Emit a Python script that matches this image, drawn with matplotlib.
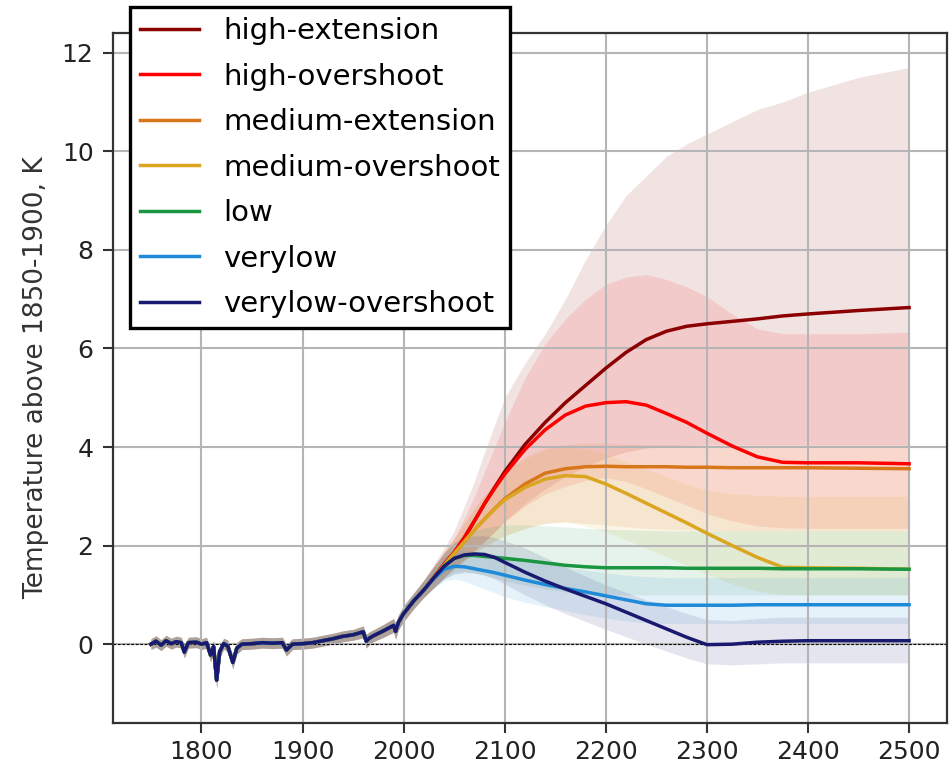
import matplotlib

matplotlib.use("Agg")
import matplotlib.pyplot as plt  # noqa: E402

# --- historical period, shared by all scenarios ---
hist_years = [1750, 1755, 1760, 1765, 1770, 1775, 1780, 1783, 1787, 1795,
              1800, 1805, 1809, 1812, 1815, 1818, 1822, 1826, 1831, 1835,
              1840, 1850, 1860, 1870, 1880, 1884, 1890, 1900, 1910, 1920,
              1930, 1940, 1950, 1960, 1963, 1966, 1970, 1980, 1990, 1992,
              1995, 2000, 2005, 2010]
hist_temp = [0.00, 0.06, -0.02, 0.07, 0.01, 0.05, 0.03, -0.16, 0.03, 0.04,
             0.00, 0.03, -0.22, -0.05, -0.73, -0.15, 0.01, -0.04, -0.37, -0.08,
             0.00, 0.01, 0.03, 0.02, 0.03, -0.12, 0.00, 0.01, 0.03, 0.07,
             0.11, 0.16, 0.19, 0.25, 0.06, 0.12, 0.17, 0.27, 0.38, 0.26,
             0.45, 0.62, 0.75, 0.88]
hist_lo = [-0.11, -0.06, -0.13, -0.04, -0.10, -0.06, -0.08, -0.28, -0.08, -0.07,
           -0.11, -0.08, -0.36, -0.18, -0.90, -0.28, -0.10, -0.16, -0.50, -0.20,
           -0.11, -0.10, -0.08, -0.09, -0.08, -0.24, -0.11, -0.10, -0.08, -0.04,
           0.00, 0.05, 0.08, 0.13, -0.08, -0.01, 0.05, 0.14, 0.24, 0.10,
           0.30, 0.46, 0.59, 0.72]
hist_hi = [0.11, 0.17, 0.09, 0.18, 0.12, 0.16, 0.14, -0.04, 0.14, 0.15,
           0.11, 0.14, -0.08, 0.08, -0.57, -0.02, 0.12, 0.08, -0.24, 0.04,
           0.11, 0.12, 0.14, 0.13, 0.14, 0.00, 0.11, 0.12, 0.14, 0.18,
           0.22, 0.27, 0.30, 0.37, 0.20, 0.25, 0.29, 0.40, 0.52, 0.42,
           0.60, 0.78, 0.91, 1.04]

# --- scenarios (median + 5-95% range) ---
scen_years = [2020, 2030, 2040, 2050, 2060, 2070, 2080, 2090, 2100, 2120,
              2140, 2160, 2180, 2200, 2220, 2240, 2260, 2280, 2300, 2325,
              2350, 2375, 2400, 2450, 2500]

high_ext = [1.10, 1.36, 1.62, 1.86, 2.16, 2.50, 2.85, 3.18, 3.50, 4.05,
            4.50, 4.90, 5.25, 5.60, 5.92, 6.18, 6.35, 6.45, 6.50, 6.55,
            6.60, 6.66, 6.70, 6.77, 6.83]
high_ext_lo = [0.95, 1.15, 1.35, 1.55, 1.72, 1.90, 2.08, 2.28, 2.50, 2.85,
               3.15, 3.40, 3.60, 3.78, 3.90, 3.98, 4.02, 4.04, 4.05, 4.05,
               4.05, 4.05, 4.05, 4.05, 4.05]
high_ext_hi = [1.30, 1.62, 1.95, 2.30, 2.80, 3.30, 3.90, 4.45, 5.00, 5.70,
               6.30, 7.00, 7.80, 8.50, 9.10, 9.50, 9.90, 10.15, 10.35, 10.60,
               10.85, 11.00, 11.20, 11.50, 11.70]

high_over = [1.10, 1.36, 1.62, 1.86, 2.16, 2.50, 2.85, 3.16, 3.45, 3.95,
             4.35, 4.65, 4.83, 4.90, 4.92, 4.85, 4.68, 4.50, 4.28, 4.02,
             3.80, 3.69, 3.68, 3.68, 3.66]
high_over_lo = [0.95, 1.15, 1.35, 1.55, 1.72, 1.90, 2.08, 2.28, 2.48, 2.80,
                3.05, 3.20, 3.32, 3.38, 3.30, 3.15, 2.98, 2.82, 2.65, 2.50,
                2.40, 2.36, 2.35, 2.35, 2.35]
high_over_hi = [1.30, 1.60, 1.88, 2.15, 2.55, 3.00, 3.50, 4.00, 4.50, 5.40,
                6.10, 6.60, 7.00, 7.30, 7.45, 7.50, 7.40, 7.25, 7.05, 6.70,
                6.40, 6.30, 6.30, 6.30, 6.33]

med_ext = [1.10, 1.35, 1.60, 1.84, 2.08, 2.32, 2.54, 2.75, 2.95, 3.25,
           3.47, 3.56, 3.60, 3.61, 3.60, 3.60, 3.60, 3.59, 3.59, 3.58,
           3.58, 3.58, 3.58, 3.57, 3.56]
med_ext_lo = [0.95, 1.15, 1.35, 1.52, 1.68, 1.84, 1.98, 2.10, 2.20, 2.35,
              2.45, 2.48, 2.45, 2.42, 2.38, 2.35, 2.33, 2.32, 2.31, 2.30,
              2.30, 2.30, 2.30, 2.30, 2.30]
med_ext_hi = [1.30, 1.58, 1.85, 2.15, 2.45, 2.75, 3.02, 3.28, 3.50, 3.80,
              3.98, 4.05, 4.08, 4.08, 4.06, 4.05, 4.05, 4.05, 4.05, 4.05,
              4.05, 4.05, 4.05, 4.05, 4.05]

med_over = [1.10, 1.35, 1.60, 1.84, 2.08, 2.32, 2.53, 2.74, 2.93, 3.18,
            3.35, 3.42, 3.40, 3.25, 3.06, 2.86, 2.66, 2.46, 2.25, 2.00,
            1.76, 1.56, 1.55, 1.54, 1.52]
med_over_lo = [0.95, 1.15, 1.35, 1.52, 1.68, 1.84, 1.98, 2.10, 2.20, 2.35,
               2.45, 2.48, 2.40, 2.28, 2.12, 1.95, 1.78, 1.60, 1.42, 1.22,
               1.08, 1.00, 1.00, 1.00, 1.00]
med_over_hi = [1.30, 1.58, 1.85, 2.15, 2.45, 2.75, 3.02, 3.25, 3.45, 3.75,
               3.95, 4.00, 3.95, 3.85, 3.70, 3.55, 3.40, 3.25, 3.12, 3.05,
               3.02, 3.00, 3.00, 3.00, 3.00]

low = [1.10, 1.35, 1.58, 1.74, 1.80, 1.80, 1.78, 1.76, 1.74, 1.70,
       1.65, 1.60, 1.57, 1.55, 1.55, 1.55, 1.55, 1.54, 1.54, 1.54,
       1.54, 1.53, 1.53, 1.53, 1.52]
low_lo = [0.95, 1.15, 1.32, 1.45, 1.48, 1.45, 1.40, 1.35, 1.28, 1.20,
          1.12, 1.06, 1.02, 1.00, 1.00, 1.00, 1.00, 1.00, 1.00, 1.00,
          1.00, 1.00, 1.00, 1.00, 1.00]
low_hi = [1.30, 1.58, 1.85, 2.08, 2.20, 2.30, 2.36, 2.40, 2.42, 2.42,
          2.40, 2.38, 2.35, 2.33, 2.32, 2.31, 2.30, 2.30, 2.30, 2.30,
          2.30, 2.30, 2.30, 2.30, 2.30]

verylow = [1.10, 1.33, 1.52, 1.58, 1.57, 1.53, 1.49, 1.45, 1.40, 1.30,
           1.21, 1.13, 1.06, 0.98, 0.90, 0.82, 0.79, 0.79, 0.79, 0.79,
           0.80, 0.80, 0.80, 0.80, 0.80]
verylow_lo = [0.95, 1.13, 1.28, 1.32, 1.28, 1.20, 1.12, 1.04, 0.96, 0.85,
              0.76, 0.68, 0.60, 0.53, 0.47, 0.43, 0.42, 0.42, 0.42, 0.42,
              0.42, 0.42, 0.42, 0.42, 0.42]
verylow_hi = [1.30, 1.55, 1.78, 1.88, 1.90, 1.88, 1.85, 1.82, 1.80, 1.72,
              1.64, 1.57, 1.50, 1.45, 1.40, 1.37, 1.35, 1.35, 1.35, 1.35,
              1.35, 1.35, 1.35, 1.35, 1.35]

verylow_os = [1.10, 1.35, 1.58, 1.74, 1.81, 1.83, 1.82, 1.76, 1.66, 1.46,
              1.28, 1.12, 0.97, 0.82, 0.65, 0.48, 0.31, 0.14, -0.01, 0.00,
              0.04, 0.06, 0.07, 0.07, 0.07]
verylow_os_lo = [0.95, 1.15, 1.32, 1.42, 1.45, 1.44, 1.40, 1.32, 1.22, 1.00,
                 0.80, 0.62, 0.46, 0.30, 0.15, 0.00, -0.14, -0.28, -0.40, -0.42,
                 -0.40, -0.38, -0.38, -0.38, -0.38]
verylow_os_hi = [1.30, 1.58, 1.85, 2.05, 2.15, 2.20, 2.20, 2.16, 2.10, 1.95,
                 1.76, 1.56, 1.38, 1.20, 1.05, 0.90, 0.76, 0.62, 0.50, 0.48,
                 0.52, 0.55, 0.55, 0.55, 0.55]

scenario_names = ["high-extension", "high-overshoot", "medium-extension",
                  "medium-overshoot", "low", "verylow", "verylow-overshoot"]
scenario_colors = ["#8b0000", "#ff0000", "#d8761a", "#daa520",
                   "#1a9641", "#1f8ad8", "#191970"]
scenario_mid = [high_ext, high_over, med_ext, med_over, low, verylow, verylow_os]
scenario_lo = [high_ext_lo, high_over_lo, med_ext_lo, med_over_lo, low_lo,
               verylow_lo, verylow_os_lo]
scenario_hi = [high_ext_hi, high_over_hi, med_ext_hi, med_over_hi, low_hi,
               verylow_hi, verylow_os_hi]

fig = plt.figure(figsize=(9.53, 7.7), dpi=100)
ax = fig.add_axes([0.1186, 0.0610, 0.8751, 0.8961])

years = hist_years + scen_years
# bands first so every median line stays crisp on top
for color, lo, hi in zip(scenario_colors, scenario_lo, scenario_hi):
    ax.fill_between(years, hist_lo + lo, hist_hi + hi, color=color,
                    alpha=0.11, lw=0, zorder=1)
for name, color, mid in zip(scenario_names, scenario_colors, scenario_mid):
    ax.plot(years, hist_temp + mid, color=color, lw=2.5, label=name, zorder=3)

ax.axhline(0, color="black", lw=0.8, ls=(0, (2.5, 1.5)), zorder=2)

ax.set_xlim(1712.5, 2537.5)
ax.set_ylim(-1.6, 12.4)
ax.set_xticks(range(1800, 2501, 100))
ax.set_yticks(range(0, 13, 2))
ax.grid(True, color="#b5b5b5", lw=1.5)
for s in ax.spines.values():
    s.set_linewidth(1.6)
    s.set_color("#333333")
ax.tick_params(labelsize=18, length=7, width=1.5, color="#333333",
               labelcolor="#222222")
ax.tick_params(axis="y", pad=7)
ax.tick_params(axis="x", pad=5)
ax.set_ylabel("Temperature above 1850-1900, K", fontsize=19, labelpad=9,
              color="#333333")

leg = ax.legend(loc="upper left", bbox_to_anchor=(0.1364, 0.991),
                bbox_transform=fig.transFigure, borderaxespad=0,
                fancybox=False, edgecolor="black", framealpha=1,
                fontsize=21, labelspacing=0.6, handletextpad=0.85,
                borderpad=0.35)
leg.get_frame().set_linewidth(2.4)
leg.set_zorder(10)

fig.savefig("out.png", dpi=100)
